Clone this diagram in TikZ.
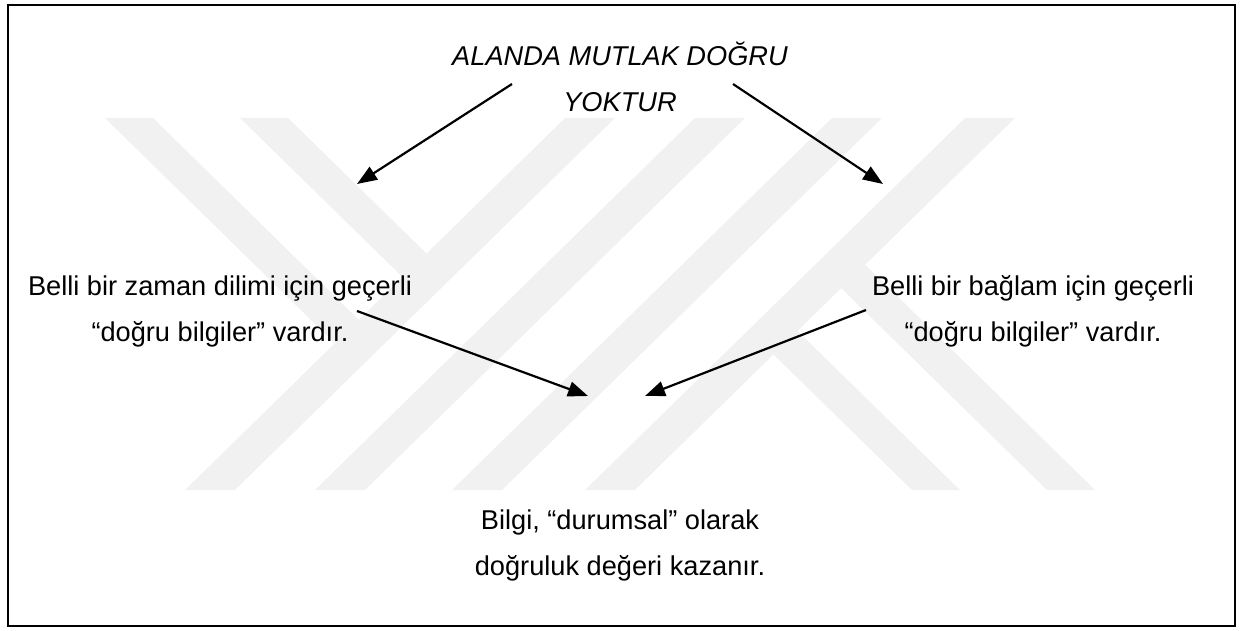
\documentclass[tikz,border=0pt]{standalone}
\usepackage{fontspec}
\setmainfont{Liberation Sans}
\usetikzlibrary{arrows.meta}
\definecolor{wmgray}{gray}{0.945}

\begin{document}
\begin{tikzpicture}[x=0.5pt,y=-0.5pt]
		\useasboundingbox (0,0) rectangle (1243,631);
		\tikzstyle{phrase}=[align=center,inner sep=0pt,font=\fontsize{13.6}{23}\selectfont]
		\tikzstyle{arr}=[line width=1.1pt,-{Triangle[length=10pt,width=7.5pt]}]
		% background stripes
		\foreach \x in {565,695,832,965}{
			\fill[wmgray] (\x,118) -- (\x+50,118) -- (\x-330,490) -- (\x-380,490) -- cycle;
		}
		\fill[wmgray] (105,118) -- (153,118) -- (359,320) -- (360,368) -- cycle;
		\fill[wmgray] (240,118) -- (288,118) -- (427,254) -- (428,302) -- cycle;
		\fill[wmgray] (1095,490) -- (1047,490) -- (841,288) -- (840,240) -- cycle;
		\fill[wmgray] (960,490) -- (912,490) -- (773,354) -- (772,306) -- cycle;
		\draw[line width=1pt] (8,5) rectangle (1235,626);
		\node[phrase,font=\fontsize{13.6}{23}\selectfont\itshape] (t_1) at (620,77) {ALANDA MUTLAK DOĞRU\\YOKTUR};
		\node[phrase] (t_2) at (220,311) {Belli bir zaman dilimi için geçerli\\“doğru bilgiler” vardır.};
		\node[phrase] (t_3) at (1033,311) {Belli bir bağlam için geçerli\\“doğru bilgiler” vardır.};
		\node[phrase] (t_4) at (620,545) {Bilgi, “durumsal” olarak\\doğruluk değeri kazanır.};
		\coordinate (a_1) at (512,84);
		\coordinate (b_1) at (357,184);
		\coordinate (a_2) at (733,84);
		\coordinate (b_2) at (883,184);
		\coordinate (a_3) at (357,311);
		\coordinate (b_3) at (588,396);
		\coordinate (a_4) at (866,310);
		\coordinate (b_4) at (645,396);
		\foreach \i in {1,...,4}{
			\draw[arr] (a_\i) -- (b_\i);
		}
	\end{tikzpicture}
\end{document}
